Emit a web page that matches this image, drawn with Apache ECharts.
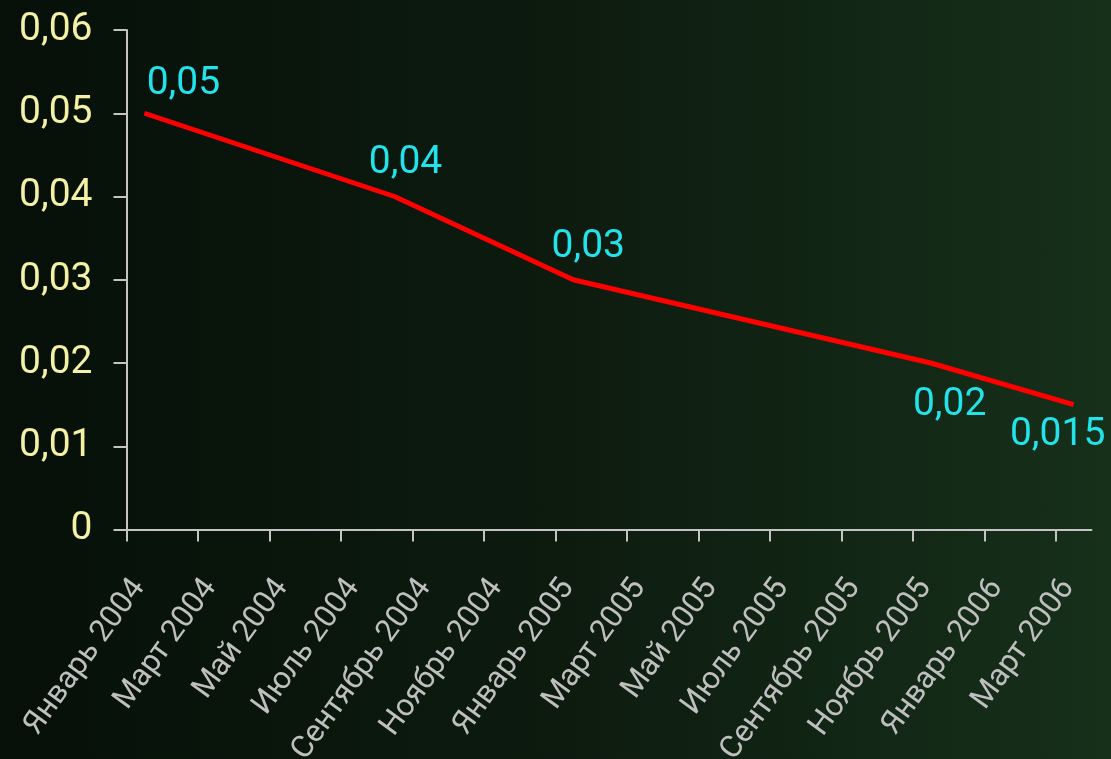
<!DOCTYPE html>
<html>
<head>
<meta charset="utf-8">
<script src="https://cdn.jsdelivr.net/npm/echarts@6/dist/echarts.min.js"></script>
<style>
  html, body { margin: 0; padding: 0; }
  #chart {
    width: 1111px; height: 759px;
    background: linear-gradient(to right, #061009 0%, #0d1b0f 50%, #16301a 100%);
  }
</style>
</head>
<body>
<div id="chart"></div>
<script>
// Months on the horizontal axis (one band per month)
const months = [
  'Январь 2004', 'Февраль 2004', 'Март 2004', 'Апрель 2004', 'Май 2004', 'Июнь 2004',
  'Июль 2004', 'Август 2004', 'Сентябрь 2004', 'Октябрь 2004', 'Ноябрь 2004', 'Декабрь 2004',
  'Январь 2005', 'Февраль 2005', 'Март 2005', 'Апрель 2005', 'Май 2005', 'Июнь 2005',
  'Июль 2005', 'Август 2005', 'Сентябрь 2005', 'Октябрь 2005', 'Ноябрь 2005', 'Декабрь 2005',
  'Январь 2006', 'Февраль 2006', 'Март 2006'
];

// Observed values
const pointMonths = ['Январь 2004', 'Август 2004', 'Январь 2005', 'Ноябрь 2005', 'Март 2006'];
const pointValues = [0.05, 0.04, 0.03, 0.02, 0.015];

// Value axis range
const yMin = 0;
const yMax = 0.06;
const yStep = 0.01;

// Where each value label sits relative to its point
const labelOffsets = [[39, -29], [11, -33], [15, -33], [19, 42], [-16, 31]];

const tickMonths = months.map((m, i) => i).filter(i => i % 2 === 0);
const fmt = v => String(+v.toFixed(3)).replace('.', ',');

const seriesData = pointMonths.map((m, i) => ({
  value: [months.indexOf(m) + 0.5, pointValues[i]],
  label: { offset: labelOffsets[i] }
}));

const chart = echarts.init(document.getElementById('chart'));
chart.setOption({
  backgroundColor: 'transparent',
  animation: false,
  grid: { left: 126.5, right: 19.5, top: 30, bottom: 229.5, containLabel: false, outerBoundsMode: 'none' },
  xAxis: {
    type: 'value',
    min: 0,
    max: months.length,
    splitLine: { show: false },
    axisLine: { show: true, lineStyle: { color: '#c4c4c4', width: 2 } },
    axisTick: { show: true, length: 12, customValues: tickMonths, lineStyle: { color: '#c4c4c4', width: 2 } },
    axisLabel: {
      customValues: tickMonths,
      formatter: v => months[Math.round(v)] || '',
      rotate: 54,
      align: 'right',
      verticalAlign: 'top',
      margin: 44,
      color: '#bfbfbf',
      fontFamily: 'Roboto',
      fontSize: 31
    }
  },
  yAxis: {
    type: 'value',
    min: yMin,
    max: yMax,
    interval: yStep,
    splitLine: { show: false },
    axisLine: { show: true, lineStyle: { color: '#c4c4c4', width: 2 } },
    axisTick: { show: true, length: 13, lineStyle: { color: '#c4c4c4', width: 2 } },
    axisLabel: {
      formatter: fmt,
      margin: 34,
      color: '#f4f1a4',
      fontFamily: 'Roboto',
      fontSize: 39
    }
  },
  series: [{
    type: 'line',
    data: seriesData,
    silent: true,
    symbol: 'circle',
    symbolSize: 1,
    itemStyle: { color: 'rgba(0,0,0,0)' },
    lineStyle: { color: '#ff0000', width: 5 },
    label: {
      show: true,
      position: 'inside',
      formatter: p => fmt(p.value[1]),
      color: '#22e3ea',
      fontFamily: 'Roboto',
      fontSize: 39
    }
  }]
});
</script>
</body>
</html>
